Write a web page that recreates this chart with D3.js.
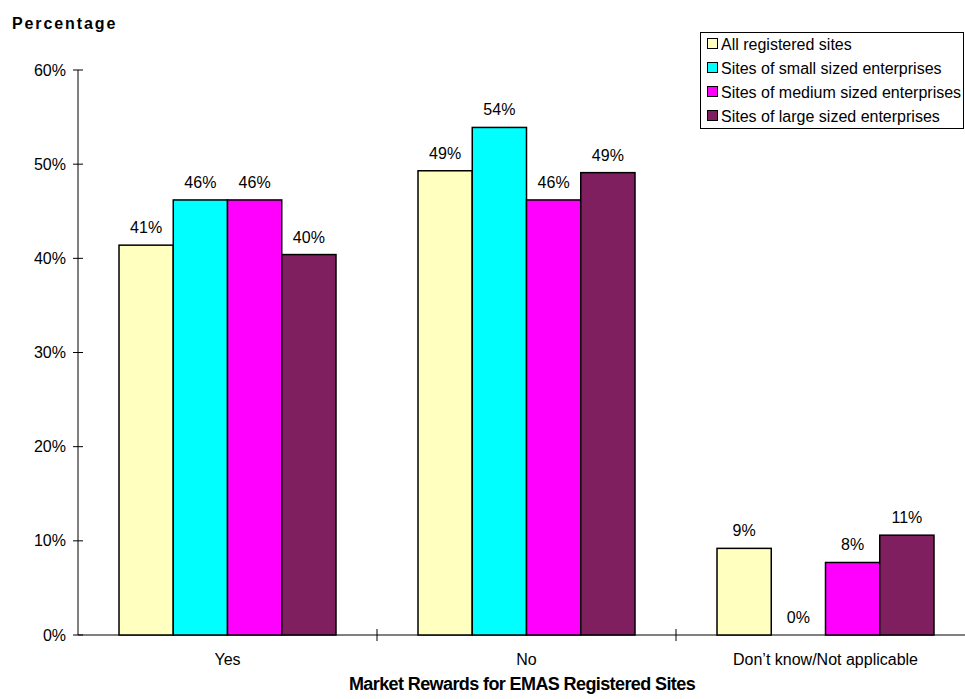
<!DOCTYPE html>
<html><head><meta charset="utf-8">
<script src="https://cdn.jsdelivr.net/npm/d3@7"></script>
<style>body{margin:0;background:#fff;}svg{display:block;font-family:"Liberation Sans",Arial,sans-serif;}</style>
</head><body>
<svg id="c" width="965" height="699"></svg>
<script>
const categories = ["Yes", "No", "Don\u2019t know/Not applicable"];
const seriesNames = ["All registered sites", "Sites of small sized enterprises", "Sites of medium sized enterprises", "Sites of large sized enterprises"];
const seriesColors = ["#FFFFC0", "#00FFFF", "#FF00FF", "#7F1F5F"];
const allSites = [41.4, 49.3, 9.2];
const smallSites = [46.2, 53.9, 0];
const mediumSites = [46.2, 46.2, 7.7];
const largeSites = [40.4, 49.1, 10.6];
const yTicks = [0, 10, 20, 30, 40, 50, 60];

(function () {
const series = [allSites, smallSites, mediumSites, largeSites];
const svg = d3.select("#c");
const pLeft = 78, pTop = 70, pBottom = 635, band = 299;
const x = d3.scaleBand().domain(categories).range([pLeft, pLeft + band * 3]).paddingInner(0).paddingOuter(0);
const x1 = d3.scaleBand().domain(d3.range(4)).range([0, band]).paddingInner(0).paddingOuter(0.756);
const y = d3.scaleLinear().domain([0, 60]).range([pBottom, pTop]);
const fs = 16;

// y axis
svg.append("line").attr("x1", pLeft).attr("x2", pLeft).attr("y1", pTop).attr("y2", pBottom).attr("stroke", "#000");
yTicks.forEach(t => {
  svg.append("line").attr("x1", pLeft - 5).attr("x2", pLeft + 5).attr("y1", y(t)).attr("y2", y(t)).attr("stroke", "#000");
  svg.append("text").attr("x", pLeft - 12).attr("y", y(t) + 5.5).attr("text-anchor", "end").attr("font-size", fs).text(t + "%");
});
// x axis
svg.append("line").attr("x1", pLeft).attr("x2", 965).attr("y1", pBottom).attr("y2", pBottom).attr("stroke", "#000");
categories.forEach((c, i) => {
  if (i > 0) svg.append("line").attr("x1", x(c)).attr("x2", x(c)).attr("y1", pBottom - 6).attr("y2", pBottom + 6).attr("stroke", "#000");
  svg.append("text").attr("x", x(c) + band / 2).attr("y", 665).attr("text-anchor", "middle").attr("font-size", fs).text(c);
});

// bars
series.forEach((vals, s) => {
  const g = svg.append("g");
  vals.forEach((v, i) => {
    const bx = x(categories[i]) + x1(s);
    if (v > 0) {
      g.append("rect").attr("x", bx).attr("y", y(v)).attr("width", x1.bandwidth()).attr("height", y(0) - y(v))
        .attr("fill", seriesColors[s]).attr("stroke", "#000").attr("stroke-width", 1.5);
    }
    g.append("text").attr("x", bx + x1.bandwidth() / 2).attr("y", y(v) - 12).attr("text-anchor", "middle")
      .attr("font-size", fs).text(Math.round(v) + "%");
  });
});

// titles
svg.append("text").attr("x", 12).attr("y", 29).attr("font-size", 16).attr("font-weight", "bold").attr("letter-spacing", 1.9).text("Percentage");
svg.append("text").attr("x", 522).attr("y", 690).attr("text-anchor", "middle").attr("font-size", 18).attr("font-weight", "bold").attr("letter-spacing", -0.6).text("Market Rewards for EMAS Registered Sites");

// legend
const lg = svg.append("g");
lg.append("rect").attr("x", 700.5).attr("y", 32.5).attr("width", 263).attr("height", 96).attr("fill", "#fff").attr("stroke", "#000");
seriesNames.forEach((n, i) => {
  const yy = 44 + i * 24;
  lg.append("rect").attr("x", 707.5).attr("y", yy - 5.5).attr("width", 10).attr("height", 10).attr("fill", seriesColors[i]).attr("stroke", "#000");
  lg.append("text").attr("x", 721).attr("y", yy + 5.5).attr("font-size", fs).text(n);
});
})();
</script>
</body></html>
